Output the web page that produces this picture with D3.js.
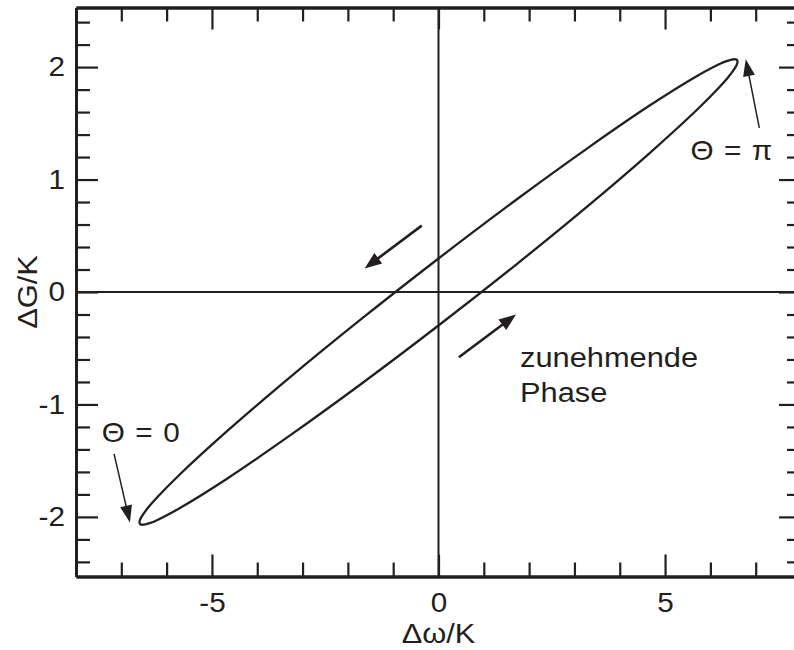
<!DOCTYPE html>
<html>
<head>
<meta charset="utf-8">
<script src="https://cdn.jsdelivr.net/npm/d3@7"></script>
<style>
  body { margin: 0; background: #fff; }
  svg { display: block; }
  text { font-family: "Liberation Sans", Arial, Helvetica, sans-serif; fill: #231f20; }
</style>
</head>
<body>
<svg id="chart" width="794" height="650"></svg>
<script>
// Closed phase loop: Δω/K and ΔG/K sampled once around the period
const loopOmega = [-6.600, -6.575, -6.500, -6.375, -6.202, -5.716, -4.667, -3.300, -1.708, 0.000,
                   1.708, 3.300, 4.667, 5.716, 6.202, 6.375, 6.500, 6.575,
                   6.600, 6.575, 6.500, 6.375, 6.202, 5.716, 4.667, 3.300, 1.708, 0.000,
                   -1.708, -3.300, -4.667, -5.716, -6.202, -6.375, -6.500, -6.575];
const loopG = [-2.048, -2.015, -1.966, -1.901, -1.823, -1.625, -1.238, -0.766, -0.242, 0.298,
               0.818, 1.282, 1.660, 1.923, 2.027, 2.056, 2.069, 2.067,
               2.048, 2.015, 1.966, 1.901, 1.823, 1.625, 1.238, 0.766, 0.242, -0.298,
               -0.818, -1.282, -1.660, -1.923, -2.027, -2.056, -2.069, -2.067];

// Axis ticks
const xMajorTicks = [-5, 0, 5];
const xMinorTicks = [-7, -6, -4, -3, -2, -1, 1, 2, 3, 4, 6, 7];
const yMajorTicks = [-2, -1, 0, 1, 2];
const yMinorTicks = [-2.4, -2.2, -1.8, -1.6, -1.4, -1.2, -0.8, -0.6, -0.4, -0.2,
                     0.2, 0.4, 0.6, 0.8, 1.2, 1.4, 1.6, 1.8, 2.2, 2.4];
const xTitle = "Δω/K";
const yTitle = "ΔG/K";

// Direction-of-travel arrows [x1, y1, x2, y2] in data units
const flowArrows = [[-0.37, 0.59, -1.63, 0.21], [0.45, -0.58, 1.71, -0.20]];
// Pointers to the Θ = 0 and Θ = π ends of the loop
const thetaArrows = [[7.08, 1.46, 6.78, 2.07], [-7.16, -1.44, -6.81, -2.05]];
// Annotation texts with their left/baseline anchors in data units
const noteTexts = ["Θ = π", "Θ = 0", "zunehmende", "Phase"];
const noteX = [5.56, -7.43, 1.80, 1.80];
const noteY = [1.178, -1.334, -0.664, -0.976];

const ink = "#231f20";
const stretch = 1.1;   // the lettering is set slightly wide
const svg = d3.select("#chart");

const x = d3.scaleLinear().domain([-8, 8]).range([76, 801]);
const y = d3.scaleLinear().domain([-2.53, 2.53]).range([576.5, 7.5]);

const fmt = d => String(d);

// widen a text element horizontally while keeping its anchor point in place
function widen(sel) {
  sel.each(function () {
    const ax = +this.getAttribute("x") || 0;
    this.setAttribute("transform", `translate(${ax * (1 - stretch)},0) scale(${stretch},1)`);
  });
}

function styleAxis(g) {
  g.select(".domain").attr("stroke", ink).attr("stroke-width", 3);
  g.selectAll(".tick line").attr("stroke", ink).attr("stroke-width", 2.2);
  g.selectAll(".tick text").attr("fill", ink).style("font-size", "27px")
    .style("font-family", '"Liberation Sans", Arial, sans-serif').call(widen);
}

// bottom
const gb = svg.append("g").attr("transform", `translate(0,${y.range()[0]})`);
gb.call(d3.axisBottom(x).tickValues(xMajorTicks).tickSizeInner(-22).tickSizeOuter(0).tickPadding(16).tickFormat(fmt));
styleAxis(gb);
const gbm = svg.append("g").attr("transform", `translate(0,${y.range()[0]})`);
gbm.call(d3.axisBottom(x).tickValues(xMinorTicks).tickSizeInner(-14).tickSizeOuter(0).tickFormat(""));
styleAxis(gbm);

// top
const gt = svg.append("g").attr("transform", `translate(0,${y.range()[1]})`);
gt.call(d3.axisTop(x).tickValues(xMajorTicks).tickSizeInner(-22).tickSizeOuter(0).tickFormat(""));
styleAxis(gt);
const gtm = svg.append("g").attr("transform", `translate(0,${y.range()[1]})`);
gtm.call(d3.axisTop(x).tickValues(xMinorTicks).tickSizeInner(-14).tickSizeOuter(0).tickFormat(""));
styleAxis(gtm);

// left
const gl = svg.append("g").attr("transform", `translate(${x.range()[0]},0)`);
gl.call(d3.axisLeft(y).tickValues(yMajorTicks).tickSizeInner(-22).tickSizeOuter(0).tickPadding(11).tickFormat(fmt));
styleAxis(gl);
const glm = svg.append("g").attr("transform", `translate(${x.range()[0]},0)`);
glm.call(d3.axisLeft(y).tickValues(yMinorTicks).tickSizeInner(-14).tickSizeOuter(0).tickFormat(""));
styleAxis(glm);

// right
const gr = svg.append("g").attr("transform", `translate(${x.range()[1]},0)`);
gr.call(d3.axisRight(y).tickValues(yMajorTicks).tickSizeInner(-22).tickSizeOuter(0).tickFormat(""));
styleAxis(gr);
const grm = svg.append("g").attr("transform", `translate(${x.range()[1]},0)`);
grm.call(d3.axisRight(y).tickValues(yMinorTicks).tickSizeInner(-14).tickSizeOuter(0).tickFormat(""));
styleAxis(grm);

// zero lines
svg.append("line").attr("x1", x(0)).attr("x2", x(0)).attr("y1", y.range()[1]).attr("y2", y.range()[0])
  .attr("stroke", ink).attr("stroke-width", 2);
svg.append("line").attr("x1", x.range()[0]).attr("x2", x.range()[1]).attr("y1", y(0)).attr("y2", y(0))
  .attr("stroke", ink).attr("stroke-width", 2);

// loop
const pts = loopOmega.map((w, i) => [w, loopG[i]]);
svg.append("path")
  .attr("d", d3.line().x(d => x(d[0])).y(d => y(d[1])).curve(d3.curveCatmullRomClosed.alpha(0.5))(pts))
  .attr("fill", "none").attr("stroke", ink).attr("stroke-width", 2.3);

// arrows
function arrow(a, lw, headLen, headW) {
  const x1 = x(a[0]), y1 = y(a[1]), x2 = x(a[2]), y2 = y(a[3]);
  const dx = x2 - x1, dy = y2 - y1, len = Math.hypot(dx, dy);
  const ux = dx / len, uy = dy / len, nx = -uy, ny = ux;
  const bx = x2 - ux * headLen, by = y2 - uy * headLen;
  svg.append("line").attr("x1", x1).attr("y1", y1).attr("x2", bx + ux * 2).attr("y2", by + uy * 2)
    .attr("stroke", ink).attr("stroke-width", lw);
  svg.append("path")
    .attr("d", `M${x2},${y2}L${bx + nx * headW / 2},${by + ny * headW / 2}L${bx - nx * headW / 2},${by - ny * headW / 2}Z`)
    .attr("fill", ink);
}
flowArrows.forEach(a => arrow(a, 2.6, 17, 13));
thetaArrows.forEach(a => arrow(a, 1.5, 17, 12));

// annotations
noteTexts.forEach((t, i) => {
  svg.append("text").attr("x", x(noteX[i])).attr("y", y(noteY[i]))
    .style("font-size", i < 2 ? "27px" : "28px")
    .style("word-spacing", i < 2 ? "2px" : null)
    .text(t).call(widen);
});

// axis titles
svg.append("text").attr("x", x(0)).attr("y", 643).attr("text-anchor", "middle")
  .style("font-size", "28px").text(xTitle).call(widen);
svg.append("text").attr("transform", `translate(37,${y(0)}) rotate(-90) scale(${stretch},1)`)
  .attr("text-anchor", "middle").style("font-size", "28px").text(yTitle);
</script>
</body>
</html>
